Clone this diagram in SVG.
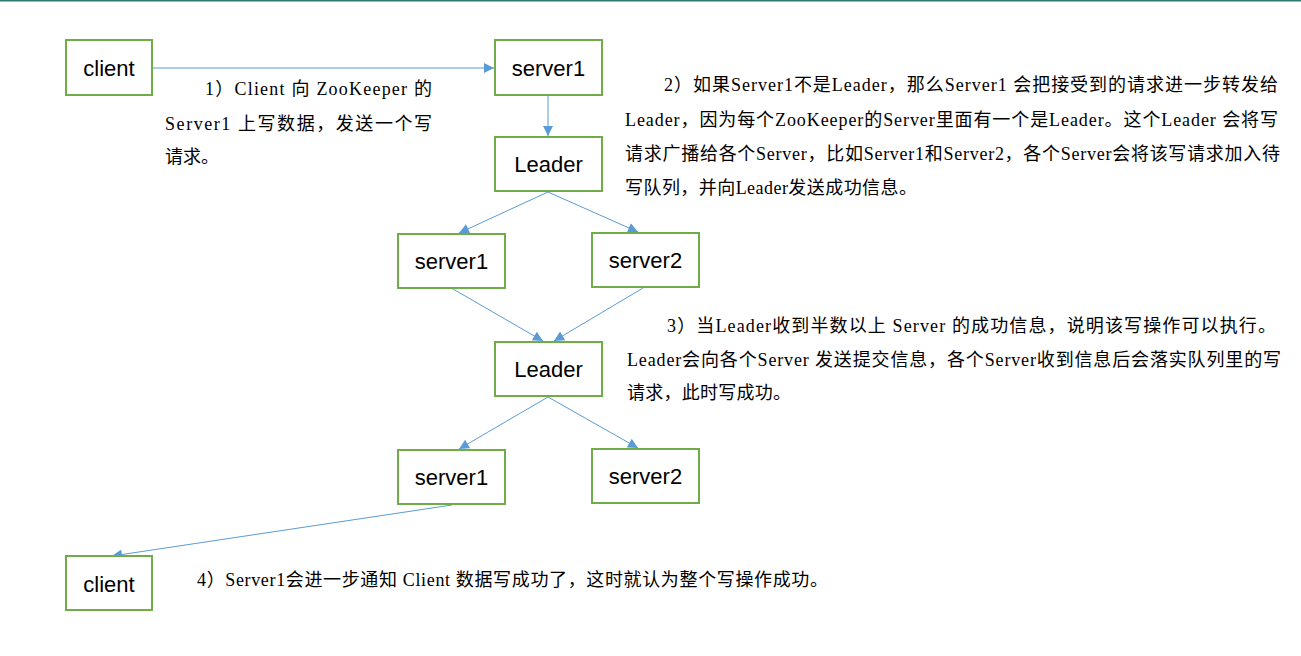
<svg xmlns="http://www.w3.org/2000/svg" width="1301" height="656" viewBox="0 0 1301 656">
<style>
.box{fill:#fff;stroke:#70ad47;stroke-width:2}
.lbl{font-family:"Liberation Sans",Arial,sans-serif;font-size:22px;fill:#000;text-anchor:middle}
.con{stroke:#5b9bd5;stroke-width:1;fill:none;marker-end:url(#ah)}
.t{font-family:"Liberation Serif","Noto Sans CJK SC",serif;font-size:18px;fill:#000}
</style>
<defs>
<marker id="ah" viewBox="0 0 10 10" refX="10" refY="5" markerWidth="11" markerHeight="10" markerUnits="userSpaceOnUse" orient="auto">
<path d="M0,0 L10,5 L0,10 z" fill="#5b9bd5"/>
</marker>
</defs>
<rect x="0" y="0" width="1301" height="656" fill="#fff"/>
<rect x="0" y="0" width="1301" height="1" fill="#2f7a6e"/>
<rect x="0" y="1" width="1301" height="1" fill="#8fc3b5"/>

<g id="connectors">
<line class="con" x1="153" y1="68" x2="494" y2="68"/>
<line class="con" x1="548" y1="96" x2="548" y2="136"/>
<line class="con" x1="548" y1="192" x2="459" y2="233"/>
<line class="con" x1="548" y1="192" x2="638" y2="232"/>
<line class="con" x1="453" y1="289" x2="543" y2="341"/>
<line class="con" x1="643" y1="288" x2="554" y2="341"/>
<line class="con" x1="548" y1="397" x2="459" y2="449"/>
<line class="con" x1="548" y1="397" x2="638" y2="448"/>
<line class="con" x1="452" y1="505" x2="112" y2="556"/>
</g>

<g id="client1"><rect class="box" x="66" y="40" width="86" height="55"/><text class="lbl" x="109" y="76">client</text></g>
<g id="server1a"><rect class="box" x="495" y="40" width="107" height="55"/><text class="lbl" x="548.5" y="76">server1</text></g>
<g id="leader1"><rect class="box" x="495" y="137" width="107" height="54"/><text class="lbl" x="548.5" y="172">Leader</text></g>
<g id="server1b"><rect class="box" x="398" y="234" width="107" height="54"/><text class="lbl" x="451.5" y="269">server1</text></g>
<g id="server2b"><rect class="box" x="592" y="233" width="107" height="54"/><text class="lbl" x="645.5" y="268">server2</text></g>
<g id="leader2"><rect class="box" x="495" y="342" width="107" height="54"/><text class="lbl" x="548.5" y="377">Leader</text></g>
<g id="server1c"><rect class="box" x="398" y="450" width="107" height="54"/><text class="lbl" x="451.5" y="485">server1</text></g>
<g id="server2c"><rect class="box" x="592" y="449" width="107" height="54"/><text class="lbl" x="645.5" y="484">server2</text></g>
<g id="client2"><rect class="box" x="66" y="556" width="86" height="54"/><text class="lbl" x="109" y="592">client</text></g>

<g id="note1">
<text class="t" x="205" y="95" textLength="227" lengthAdjust="spacing">1）Client 向 ZooKeeper 的</text>
<text class="t" x="165" y="130" textLength="267" lengthAdjust="spacing">Server1  上写数据，发送一个写</text>
<text class="t" x="165" y="163">请求。</text>
</g>
<g id="note2">
<text class="t" x="664" y="91" textLength="614" lengthAdjust="spacing">2）如果Server1不是Leader，那么Server1  会把接受到的请求进一步转发给</text>
<text class="t" x="625" y="126" textLength="653" lengthAdjust="spacing">Leader，因为每个ZooKeeper的Server里面有一个是Leader。这个Leader  会将写</text>
<text class="t" x="625" y="160" textLength="655" lengthAdjust="spacing">请求广播给各个Server，比如Server1和Server2，各个Server会将该写请求加入待</text>
<text class="t" x="625" y="194" textLength="292" lengthAdjust="spacing">写队列，并向Leader发送成功信息。</text>
</g>
<g id="note3">
<text class="t" x="667" y="332" textLength="609" lengthAdjust="spacing">3）当Leader收到半数以上  Server  的成功信息，说明该写操作可以执行。</text>
<text class="t" x="627" y="366" textLength="654" lengthAdjust="spacing">Leader会向各个Server  发送提交信息，各个Server收到信息后会落实队列里的写</text>
<text class="t" x="627" y="399" textLength="164" lengthAdjust="spacing">请求，此时写成功。</text>
</g>
<g id="note4">
<text class="t" x="197" y="586" textLength="631" lengthAdjust="spacing">4）Server1会进一步通知 Client 数据写成功了，这时就认为整个写操作成功。</text>
</g>
</svg>
